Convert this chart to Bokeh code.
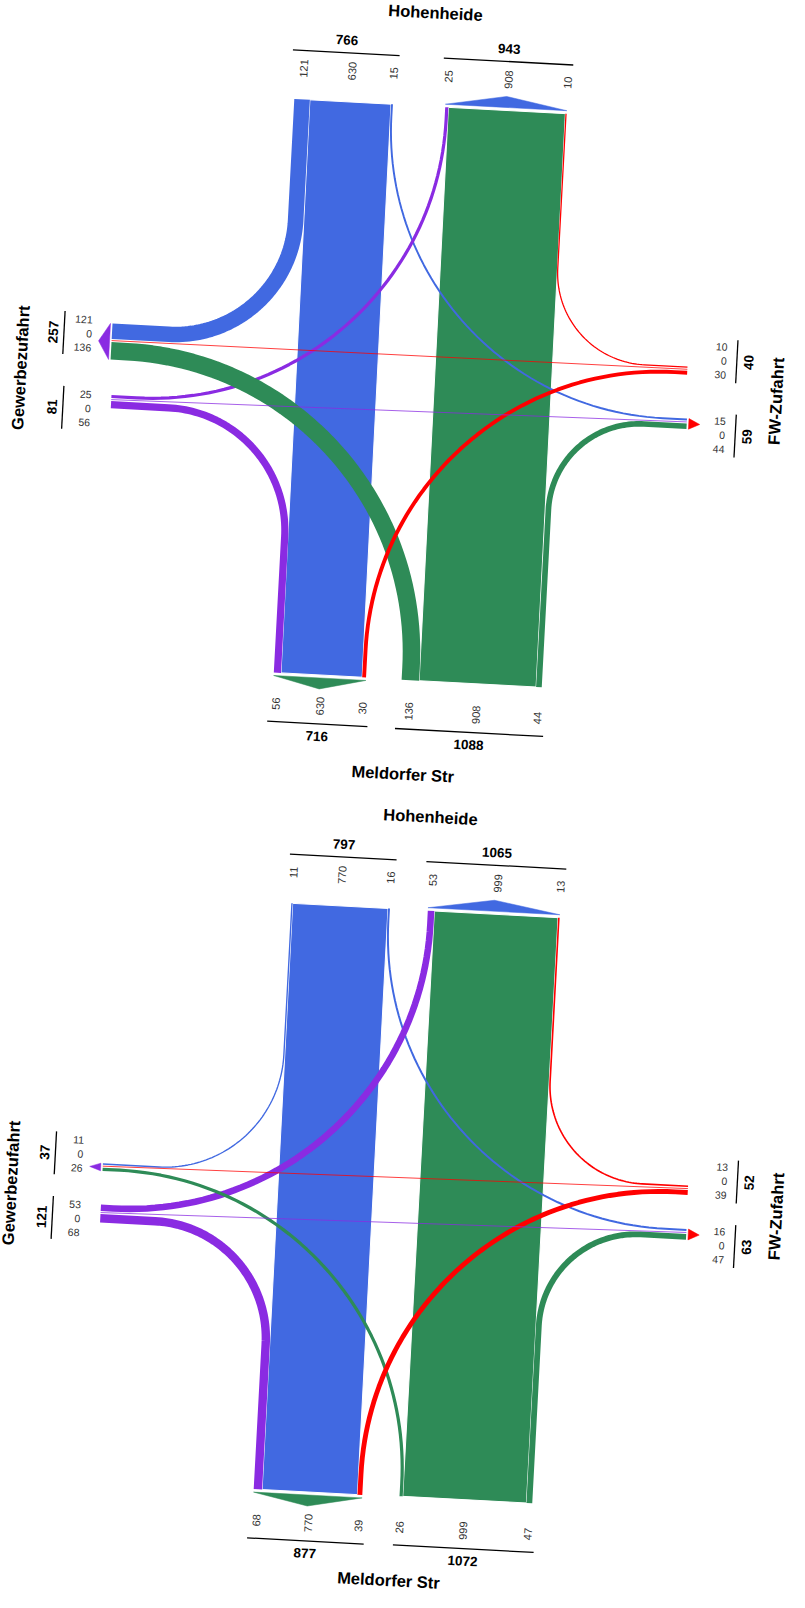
import math
import numpy as np
from bokeh.plotting import figure
from bokeh.models import Range1d, ColumnDataSource
from bokeh.embed import file_html
from bokeh.resources import INLINE
from bokeh.core.properties import value

# ---------------- data ----------------
arm_keys = ["N", "S", "W", "E"]
arm_titles = ["Hohenheide", "Meldorfer Str", "Gewerbezufahrt", "FW-Zufahrt"]
arm_colors = ["#4169E1", "#2E8B57", "#8A2BE2", "#FF0000"]

move_from = ["N", "N", "N", "S", "S", "S", "W", "W", "W", "E", "E", "E"]
move_to = ["W", "S", "E", "W", "N", "E", "N", "E", "S", "N", "W", "S"]
counts_top = [121, 630, 15, 136, 908, 44, 25, 0, 56, 10, 0, 30]
counts_bottom = [11, 770, 16, 26, 999, 47, 53, 0, 68, 13, 0, 39]

# order of the movements inside each arm block (left->right for N/S, top->bottom for W/E)
BLOCKS = [
    ("N_out", [("N", "W"), ("N", "S"), ("N", "E")]),
    ("N_in", [("W", "N"), ("S", "N"), ("E", "N")]),
    ("S_in", [("W", "S"), ("N", "S"), ("E", "S")]),
    ("S_out", [("S", "W"), ("S", "N"), ("S", "E")]),
    ("W_in", [("N", "W"), ("E", "W"), ("S", "W")]),
    ("W_out", [("W", "N"), ("W", "E"), ("W", "S")]),
    ("E_out", [("E", "N"), ("E", "W"), ("E", "S")]),
    ("E_in", [("N", "E"), ("W", "E"), ("S", "E")]),
]
RIGHT_TURNS = {("N", "W"), ("W", "S"), ("S", "E"), ("E", "N")}

# layout of the two diagrams (page pixel positions of block starts, px per vehicle, tilt)
PANELS = [
    dict(counts=counts_top, scale=0.129, slope=0.0535, s_title=94,
         start={"N_out": (301.8, 106.5), "N_in": (452.7, 114.7),
                "S_in": (281.3, 680.0), "S_out": (409.1, 687.3),
                "W_in": (120.0, 331.0), "W_out": (119.0, 402.4),
                "E_out": (695.0, 374.0), "E_in": (694.5, 426.0)}),
    dict(counts=counts_bottom, scale=0.124, slope=0.0535, s_title=84,
         start={"N_out": (298.8, 910.8), "N_in": (435.3, 918.2),
                "S_in": (261.2, 1496.6), "S_out": (407.0, 1503.7),
                "W_in": (110.4, 1170.8), "W_out": (108.5, 1212.0),
                "E_out": (695.6, 1193.0), "E_in": (694.0, 1236.5)}),
]

TITLE = dict(zip(arm_keys, arm_titles))
COLOR = dict(zip(arm_keys, arm_colors))
FONT = value("Liberation Sans")
BAND_ORDER = {"N": 0, "W": 1, "S": 2, "E": 3}


def vecs(arm, slope):
    c = 1.0 / math.hypot(1.0, slope)
    s = slope * c
    if arm == "N":
        return np.array([c, s]), np.array([-s, c])
    if arm == "S":
        return np.array([c, s]), np.array([s, -c])
    if arm == "W":
        return np.array([-s, c]), np.array([c, s])
    return np.array([-s, c]), np.array([-c, -s])


def turn_path(pA, uA, pB, uB, frac, n=60, k=0.5523):
    M = np.array([[uA[0], -uB[0]], [uA[1], -uB[1]]])
    tA, tB = np.linalg.solve(M, pB - pA)
    r = frac * min(tA, tB)
    q0 = pA + uA * (tA - r)
    q3 = pB + uB * (tB - r)
    q1 = q0 + uA * (k * r)
    q2 = q3 + uB * (k * r)
    ts = np.linspace(0, 1, n)[:, None]
    bez = (1 - ts) ** 3 * q0 + 3 * (1 - ts) ** 2 * ts * q1 + 3 * (1 - ts) * ts ** 2 * q2 + ts ** 3 * q3
    pts = np.vstack([pA, bez, pB])
    return pts[:, 0], pts[:, 1]


p = figure(width=789, height=1592, x_range=Range1d(8, 797), y_range=Range1d(-1600, -8),
           output_backend="svg", toolbar_location=None, x_axis_type=None, y_axis_type=None,
           min_border=0)
p.grid.visible = False
p.outline_line_color = None
p.background_fill_color = "white"
p.border_fill_color = "white"

patch_xs, patch_ys, patch_c = [], [], []
bands = []
zero_xs, zero_ys, zero_c = [], [], []
arrow_xs, arrow_ys, arrow_c = [], [], []
rule_xs, rule_ys = [], []
T = {"seg_ns": [], "seg_we": [], "tot": [], "title": []}


def add_text(key, q, txt, ang):
    T[key].append((float(q[0]), float(-q[1]), txt, ang))


for P in PANELS:
    cnt = {(f, t): n for f, t, n in zip(move_from, move_to, P["counts"])}
    sc = P["scale"]
    sl = P["slope"]
    theta = math.atan(sl)
    slots = {}
    binfo = {}
    for bkey, moves in BLOCKS:
        arm = bkey[0]
        edge, inward = vecs(arm, sl)
        p0 = np.array(P["start"][bkey], float)
        t = 0.0
        segs = []
        for mv in moves:
            n = cnt[mv]
            w = n * sc if n > 0 else 3.0
            a = p0 + edge * t
            b = p0 + edge * (t + w)
            slots[(mv, arm)] = dict(a=a, b=b, c=(a + b) / 2, inward=inward)
            segs.append((n, t + w / 2))
            t += w
        binfo[bkey] = dict(p0=p0, L=t, edge=edge, inward=inward, segs=segs,
                           total=sum(cnt[m] for m in moves))

    # flows
    for f, to in zip(move_from, move_to):
        n = cnt[(f, to)]
        A = slots[((f, to), f)]
        B = slots[((f, to), to)]
        if {f, to} in ({"N", "S"}, {"W", "E"}):
            if n > 0:
                poly = [A["a"], A["b"], B["b"], B["a"]]
                patch_xs.append([q[0] for q in poly])
                patch_ys.append([-q[1] for q in poly])
                patch_c.append(COLOR[f])
            else:
                zero_xs.append([A["c"][0], B["c"][0]])
                zero_ys.append([-A["c"][1], -B["c"][1]])
                zero_c.append(COLOR[f])
        elif n > 0:
            frac = 0.68 if (f, to) in RIGHT_TURNS else 0.96
            xs, ys = turn_path(A["c"], A["inward"], B["c"], B["inward"], frac)
            bands.append((BAND_ORDER[f], list(xs), list(-ys), n * sc, COLOR[f]))

    # labels, rules, arrows
    line_ends = {}
    for bkey, _ in BLOCKS:
        arm = bkey[0]
        bi = binfo[bkey]
        p0, L, edge, inward = bi["p0"], bi["L"], bi["edge"], bi["inward"]
        out = -inward
        if arm in "NS":
            for n, tm in bi["segs"]:
                add_text("seg_ns", p0 + edge * tm + out * 31, str(n), math.pi / 2 - theta)
            a = p0 - edge * 4 + out * 49
            b = p0 + edge * (L + 4) + out * 49
            add_text("tot", p0 + edge * (L / 2) + out * 61.5, str(bi["total"]), -theta)
        else:
            tc = L / 2
            if bkey in ("W_in", "E_out"):
                last = min(L - 2, tc + 7)
                tl = [last - 28, last - 14, last]
            else:
                first = max(0.5, tc - 8)
                tl = [first, first + 14, first + 28]
            off = 20 if arm == "W" else 39
            for (n, _), tt in zip(bi["segs"], tl):
                add_text("seg_we", p0 + edge * tt + out * off, str(n), -theta)
            loff = 48 if arm == "W" else 49
            a = p0 + edge * (tl[0] - 7) + out * loff
            b = p0 + edge * (tl[2] + 8) + out * loff
            toff = 58.5 if arm == "W" else 61
            add_text("tot", p0 + edge * ((tl[0] - 7 + tl[2] + 8) / 2) + out * toff,
                     str(bi["total"]), math.pi / 2 - theta)
        rule_xs.append([a[0], b[0]])
        rule_ys.append([-a[1], -b[1]])
        line_ends.setdefault(arm, []).append((a, b, out))

        if bkey.endswith("_in"):
            bo, tip = (3.0, 14.0) if arm in "NS" else (2.0, 13.0)
            pts = [p0 + out * bo, p0 + edge * L + out * bo, p0 + edge * (L / 2) + out * tip]
            arrow_xs.append([q[0] for q in pts])
            arrow_ys.append([-q[1] for q in pts])
            arrow_c.append(COLOR[arm])

    for arm in arm_keys:
        (a1, b1, out), (a2, b2, _) = line_ends[arm]
        mid = (a1 + b2) / 2
        if arm == "N":
            add_text("title", mid + out * 45, TITLE[arm], -theta)
        elif arm == "S":
            add_text("title", mid + out * (P["s_title"] - 49), TITLE[arm], -theta)
        else:
            add_text("title", mid + out * (43 if arm == "W" else 40), TITLE[arm], math.pi / 2 - theta)

# ---------------- draw ----------------
p.patches(patch_xs, patch_ys, fill_color=patch_c, line_color="white", line_width=1)

bands.sort(key=lambda b: b[0])
bsrc = ColumnDataSource(dict(xs=[b[1] for b in bands], ys=[b[2] for b in bands],
                             lw=[b[3] for b in bands], color=[b[4] for b in bands]))
p.multi_line("xs", "ys", line_width="lw", line_color="color", source=bsrc,
             line_join="round", line_cap="butt")

p.multi_line(zero_xs, zero_ys, line_color=zero_c, line_width=1, line_alpha=0.75)
p.patches(arrow_xs, arrow_ys, fill_color=arrow_c, line_color=arrow_c, line_width=0.5)
p.multi_line(rule_xs, rule_ys, line_color="black", line_width=1.3)


def draw_texts(key, size, bold, align, color):
    rows = T[key]
    src = ColumnDataSource(dict(x=[r[0] for r in rows], y=[r[1] for r in rows],
                                text=[r[2] for r in rows], angle=[r[3] for r in rows]))
    p.text("x", "y", text="text", angle="angle", source=src, text_font=FONT,
           text_font_size=value(size), text_font_style="bold" if bold else "normal",
           text_align=align, text_baseline="middle", text_color=color)


draw_texts("seg_ns", "11px", False, "center", "#333333")
draw_texts("seg_we", "10.5px", False, "right", "#333333")
draw_texts("tot", "13.5px", True, "center", "#000000")
draw_texts("title", "16.5px", True, "center", "#000000")

open("out.html", "w").write(file_html(p, INLINE))
